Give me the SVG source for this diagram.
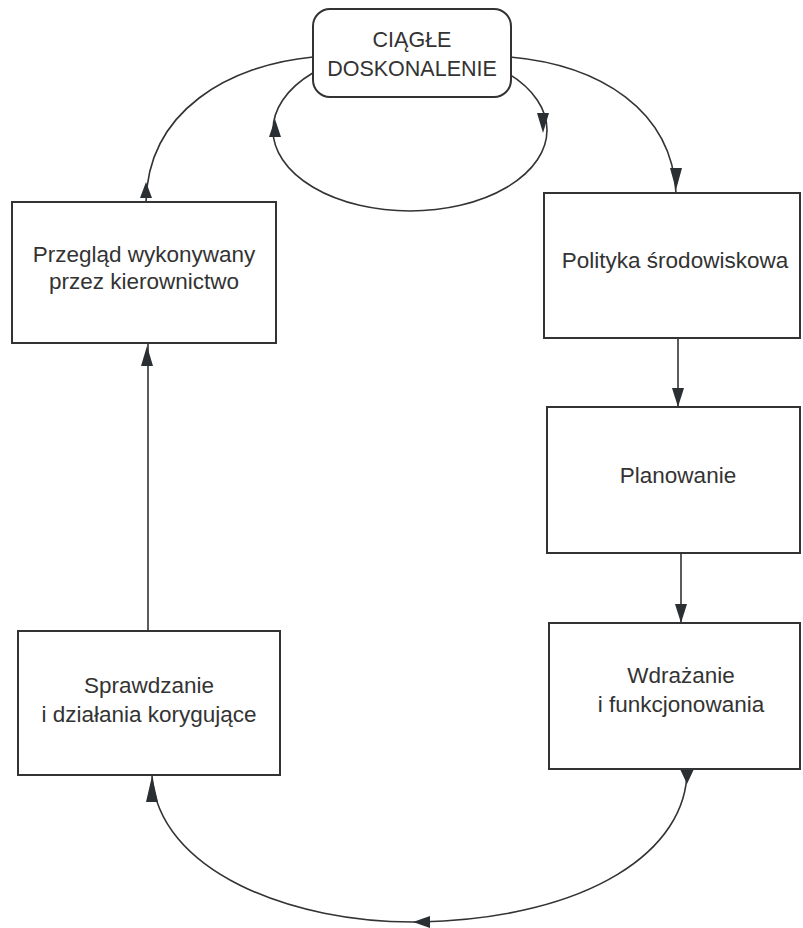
<svg xmlns="http://www.w3.org/2000/svg" width="803" height="928" viewBox="0 0 803 928">
<style>
.box{fill:#fff;stroke:#333;stroke-width:2}
.ln{fill:none;stroke:#333;stroke-width:1.6}
.ah{fill:#2a2f33;stroke:none}
text{font-family:"Liberation Sans",Arial,sans-serif;fill:#333;text-anchor:middle}
.t{font-size:22.5px}
.h{font-size:21.5px}
</style>
<rect width="803" height="928" fill="#fff"/>
<g id="connectors">
<ellipse class="ln" cx="410" cy="130" rx="137" ry="81"/>
<polygon class="ah" points="275,119 269,137 281,137"/>
<polygon class="ah" points="543,133 537,113 549,113"/>
<path class="ln" d="M313 57 C230 65 148 110 146 202"/>
<polygon class="ah" points="146,182 140,198 152,198"/>
<path class="ln" d="M510 57 C600 65 672 110 676 193"/>
<polygon class="ah" points="676,190 670,168 682,168"/>
<line class="ln" x1="678" y1="338" x2="678" y2="407"/>
<polygon class="ah" points="678,407 672,388 684,388"/>
<line class="ln" x1="681" y1="553" x2="681" y2="623"/>
<polygon class="ah" points="681,623 675,604 687,604"/>
<line class="ln" x1="148" y1="631" x2="148" y2="343"/>
<polygon class="ah" points="147,346 141,366 153,366"/>
<path class="ln" d="M687 769 C688 850 590 918 420 922 C290 924 158 870 152 776"/>
<polygon class="ah" points="687,784 680,769 694,769"/>
<polygon class="ah" points="413,922 430,916 430,928"/>
<polygon class="ah" points="152,776 146,802 158,802"/>
</g>
<g id="n-ciagle">
<rect class="box" x="313" y="9" width="198" height="88" rx="17"/>
<text class="h" x="412" y="47">CIĄGŁE</text>
<text class="h" x="412" y="76">DOSKONALENIE</text>
</g>
<g id="n-przeglad">
<rect class="box" x="12" y="202" width="264" height="141"/>
<text class="t" x="144" y="262">Przegląd wykonywany</text>
<text class="t" x="144" y="289">przez kierownictwo</text>
</g>
<g id="n-polityka">
<rect class="box" x="544" y="193" width="256" height="145"/>
<text class="t" x="675" y="268">Polityka środowiskowa</text>
</g>
<g id="n-planowanie">
<rect class="box" x="547" y="407" width="253" height="146"/>
<text class="t" x="678" y="483">Planowanie</text>
</g>
<g id="n-wdrazanie">
<rect class="box" x="549" y="623" width="251" height="146"/>
<text class="t" x="681" y="683">Wdrażanie</text>
<text class="t" x="681" y="712">i funkcjonowania</text>
</g>
<g id="n-sprawdzanie">
<rect class="box" x="18" y="631" width="262" height="144"/>
<text class="t" x="149" y="693">Sprawdzanie</text>
<text class="t" x="149" y="722">i działania korygujące</text>
</g>
</svg>
